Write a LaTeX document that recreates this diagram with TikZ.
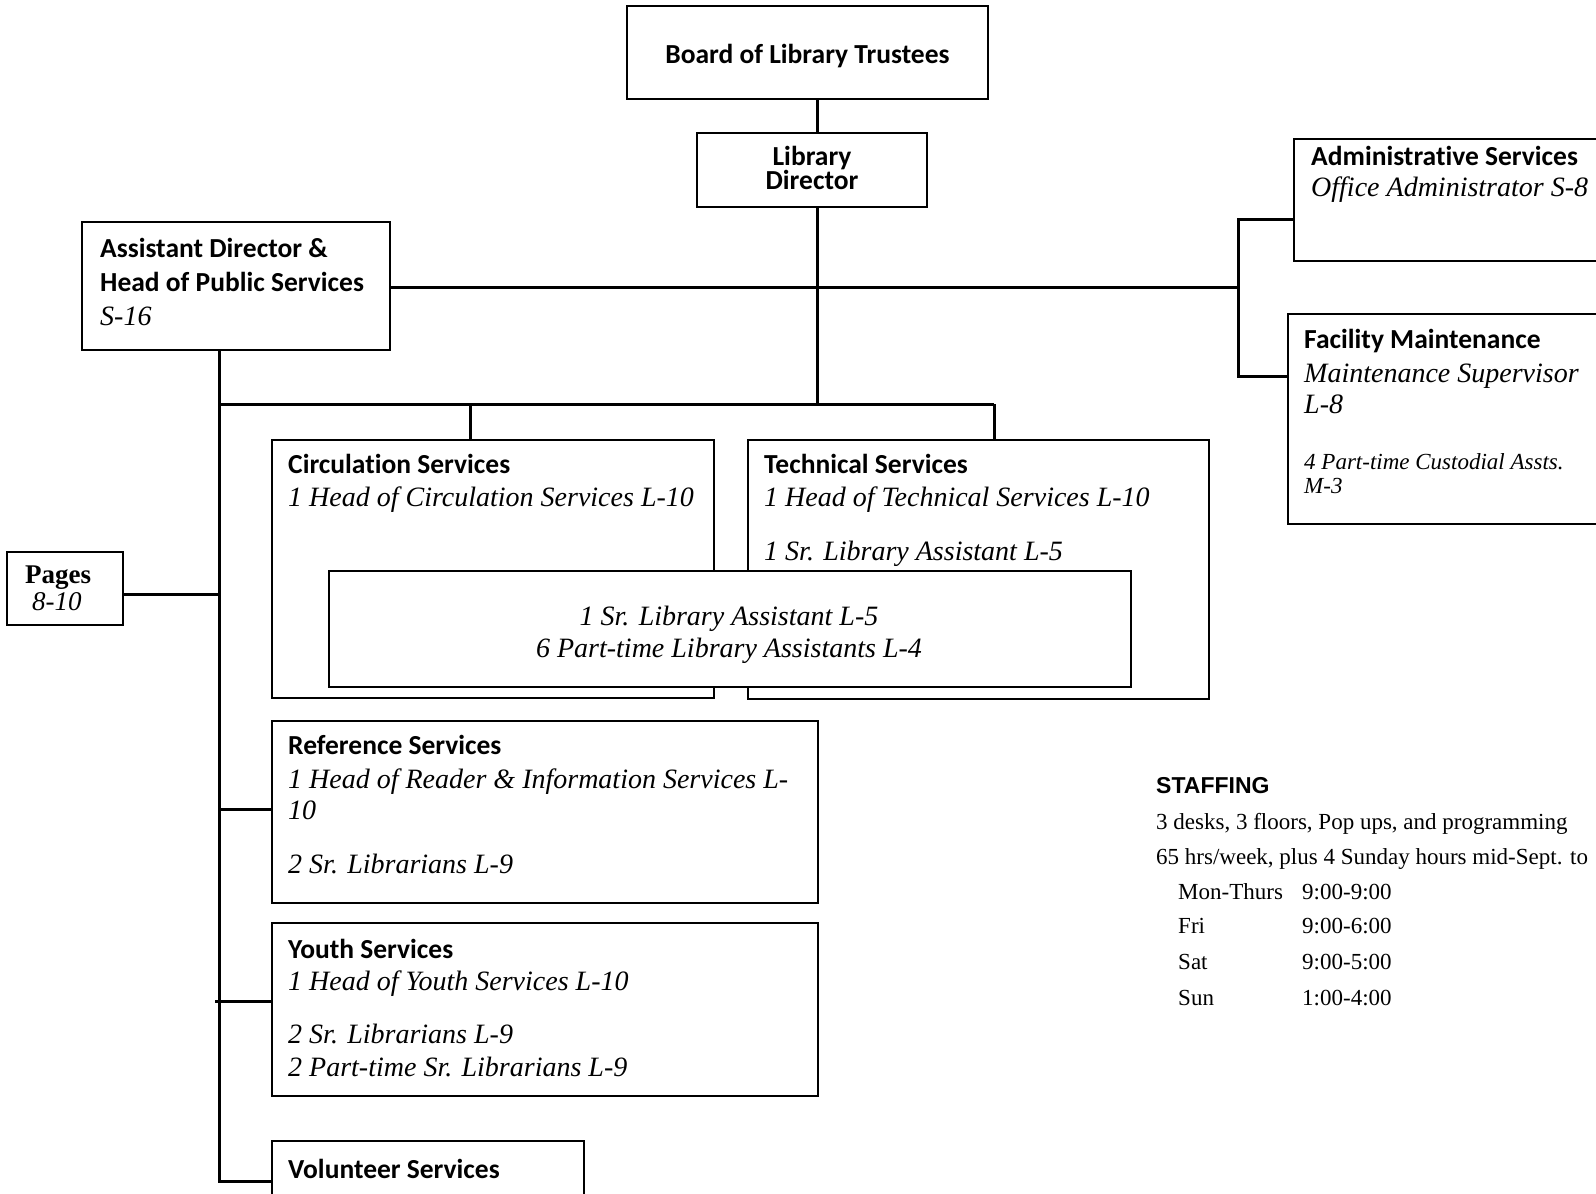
\documentclass[tikz,border=0pt]{standalone}
\usepackage{fontspec}
\setmainfont{Liberation Serif}
\newfontfamily\calf[Ligatures=CommonOff]{Carlito}
\newfontfamily\arf{Liberation Sans}
\begin{document}
\begin{tikzpicture}[x=1pt,y=-1pt,
  box/.style={draw, line width=1.5pt, inner sep=0pt, fill=white},
  conn/.style={line width=3pt},
  hd/.style={font=\calf\bfseries\fontsize{27.5}{32}\selectfont, anchor=mid west, inner sep=0pt, yshift=-7pt},
  itx/.style={font=\itshape\fontsize{28}{32}\selectfont, anchor=mid west, inner sep=0pt, yshift=-7pt},
  rm/.style={font=\fontsize{23}{26}\selectfont, anchor=mid west, inner sep=0pt, yshift=-6pt}]
\useasboundingbox (0,0) rectangle (1596,1194);
% boxes
\node[box, minimum width=361pt, minimum height=93pt] (board) at (807.5,52.5) {};
\node[box, minimum width=230pt, minimum height=74pt] (dir) at (812,170) {};
\node[box, minimum width=308pt, minimum height=128pt] (asst) at (236,286) {};
\node[box, minimum width=320pt, minimum height=122pt, anchor=north west] (adm) at (1293,138) {};
\node[box, minimum width=323pt, minimum height=210pt, anchor=north west] (fac) at (1287,313) {};
\node[box, minimum width=116pt, minimum height=73pt] (pages) at (65,588.5) {};
\node[box, minimum width=442pt, minimum height=258pt, anchor=north west] (circ) at (271,439) {};
\node[box, minimum width=461pt, minimum height=259pt, anchor=north west] (tech) at (747,439) {};
\node[box, minimum width=802pt, minimum height=116pt, anchor=north west] (inner) at (328,570) {};
\node[box, minimum width=546pt, minimum height=182pt, anchor=north west] (ref) at (271,720) {};
\node[box, minimum width=546pt, minimum height=173pt, anchor=north west] (youth) at (271,922) {};
\node[box, minimum width=312pt, minimum height=80pt, anchor=north west] (vol) at (271,1140) {};
% connectors
\coordinate (tr) at (817,404);
\coordinate (sp) at (219,404);
\coordinate (sb) at (219,1181);
\coordinate (hr) at (1238,287);
\coordinate (ra) at (1238,219);
\coordinate (rf) at (1238,376);
\coordinate (cd) at (470,404);
\coordinate (td) at (994,404);
\coordinate (pg) at (219,594);
\coordinate (rr) at (219,809);
\coordinate (yy) at (215,1001);
\draw[conn] (board.south -| tr) -- (dir.north -| tr);
\draw[conn] (dir.south -| tr) -- (tr);
\draw[conn] (asst.east |- hr) -- (hr);
\draw[conn] (ra -| adm.west) -- (ra) -- (rf) -- (rf -| fac.west);
\draw[conn] (asst.south -| sb) -- (sb) -- (sb -| vol.west);
\draw[conn] (sp) -- (td);
\draw[conn] (cd) -- (circ.north -| cd);
\draw[conn] (td) -- (tech.north -| td);
\draw[conn] (pages.east |- pg) -- (pg);
\draw[conn] (rr) -- (rr -| ref.west);
\draw[conn] (yy) -- (yy -| youth.west);
% texts
\node[font=\calf\bfseries\fontsize{27.5}{32}\selectfont, inner sep=0pt] (bt) at (807.5,56.5) {Board of Library Trustees};
\node[font=\calf\bfseries\fontsize{27.5}{22.5}\selectfont, align=center, inner sep=0pt] (dirt) at (812,168) {Library\\Director};
\node[hd] (a1) at (100,248) {Assistant Director \&};
\node[hd] (a2) at (100,282) {Head of Public Services};
\node[itx] (a3) at (100,316) {S-16};
\node[hd] (ad1) at (1311,156) {Administrative Services};
\node[itx] (ad2) at (1311,187) {Office Administrator S-8};
\node[hd] (f1) at (1304,339) {Facility Maintenance};
\node[itx] (f2) at (1304,373) {Maintenance Supervisor};
\node[itx] (f3) at (1304,404) {L-8};
\node[font=\itshape\fontsize{23}{24}\selectfont, anchor=north west, inner sep=0pt, align=left] (f4) at (1304,453) {4 Part-time Custodial Assts.\\M-3};
\node[font=\bfseries\fontsize{27}{28}\selectfont, anchor=mid west, inner sep=0pt, yshift=-7pt] (p1) at (25,574) {Pages};
\node[font=\itshape\fontsize{27}{28}\selectfont, anchor=mid west, inner sep=0pt, yshift=-7pt] (p2) at (32,601) {8-10};
\node[hd] (c1) at (288,464) {Circulation Services};
\node[itx] (c2) at (288,497) {1 Head of Circulation Services L-10};
\node[hd] (te1) at (764,464) {Technical Services};
\node[itx] (te2) at (764,497) {1 Head of Technical Services L-10};
\node[itx] (te3) at (764,551) {1 Sr. Library Assistant L-5};
\node[itx, anchor=mid] (i1) at (729,616) {1 Sr. Library Assistant L-5};
\node[itx, anchor=mid] (i2) at (729,648) {6 Part-time Library Assistants L-4};
\node[hd] (r1) at (288,745) {Reference Services};
\node[itx] (r2) at (288,779) {1 Head of Reader \& Information Services L-};
\node[itx] (r3) at (288,810) {10};
\node[itx] (r4) at (288,864) {2 Sr. Librarians L-9};
\node[hd] (y1) at (288,949) {Youth Services};
\node[itx] (y2) at (288,981) {1 Head of Youth Services L-10};
\node[itx] (y3) at (288,1034) {2 Sr. Librarians L-9};
\node[itx] (y4) at (288,1067) {2 Part-time Sr. Librarians L-9};
\node[hd] (v1) at (288,1169) {Volunteer Services};
% staffing
\node[font=\arf\bfseries\fontsize{23}{26}\selectfont, anchor=mid west, inner sep=0pt, yshift=-6pt] (s0) at (1156,785) {STAFFING};
\node[rm] (s1) at (1156,821) {3 desks, 3 floors, Pop ups, and programming};
\node[rm] (s2) at (1156,856) {65 hrs/week, plus 4 Sunday hours mid-Sept. to};
\node[rm] (d1) at (1178,891) {Mon-Thurs};
\node[rm] (d2) at (1178,925) {Fri};
\node[rm] (d3) at (1178,961) {Sat};
\node[rm] (d4) at (1178,997) {Sun};
\node[rm] (h1) at (1302,891) {9:00-9:00};
\node[rm] (h2) at (1302,925) {9:00-6:00};
\node[rm] (h3) at (1302,961) {9:00-5:00};
\node[rm] (h4) at (1302,997) {1:00-4:00};
\end{tikzpicture}
\end{document}
